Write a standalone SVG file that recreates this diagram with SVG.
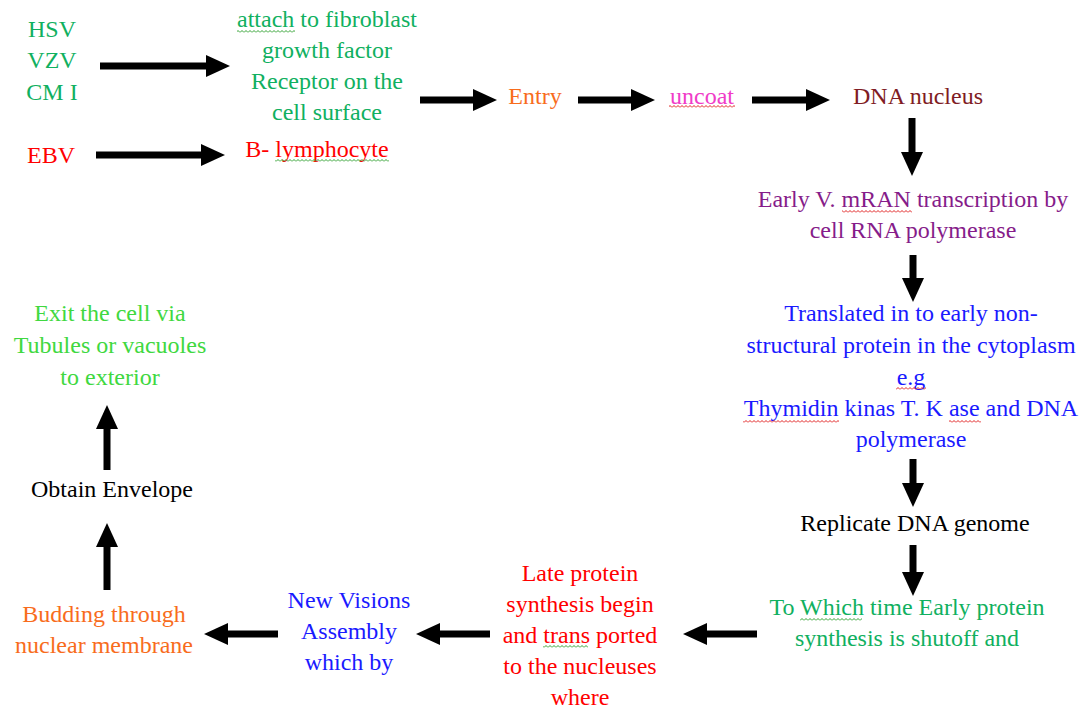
<svg xmlns="http://www.w3.org/2000/svg" width="1086" height="708" viewBox="0 0 1086 708">
<style>
text{font-family:"Liberation Serif","Times New Roman",serif;font-size:24px;text-anchor:middle}
.g{fill:#10b060}.lg{fill:#40d840}.o{fill:#f86c1c}.m{fill:#f03cc8}.dr{fill:#801c24}.p{fill:#861c8a}.b{fill:#1a1aff}.r{fill:#ff0000}.k{fill:#000}
.ar{stroke:#000;stroke-width:7;fill:none;marker-end:url(#ah)}
</style>
<defs>
<marker id="ah" markerUnits="userSpaceOnUse" markerWidth="24" markerHeight="22" viewBox="0 0 24 22" refX="0" refY="11" orient="auto"><path d="M0,0 L24,11 L0,22 z" fill="#000"/></marker>
<pattern id="wr" width="4" height="3" patternUnits="userSpaceOnUse"><path d="M0,2.5 L2,0.5 L4,2.5" stroke="#e02020" stroke-width="1" fill="none"/></pattern>
<pattern id="wg" width="4" height="3" patternUnits="userSpaceOnUse"><path d="M0,2.5 L2,0.5 L4,2.5" stroke="#30a030" stroke-width="1" fill="none"/></pattern>
</defs>
<rect width="1086" height="708" fill="#fff"/>
<g id="connectors">
<line class="ar" x1="100" y1="66" x2="206" y2="66"/>
<line class="ar" x1="96" y1="155" x2="201" y2="155"/>
<line class="ar" x1="420" y1="100" x2="473" y2="100"/>
<line class="ar" x1="578" y1="100" x2="631" y2="100"/>
<line class="ar" x1="752" y1="100" x2="806" y2="100"/>
<line class="ar" x1="912" y1="118" x2="912" y2="152"/>
<line class="ar" x1="913" y1="255" x2="913" y2="278"/>
<line class="ar" x1="913" y1="459" x2="913" y2="483"/>
<line class="ar" x1="913" y1="545" x2="913" y2="572"/>
<line class="ar" x1="757" y1="634" x2="707" y2="634"/>
<line class="ar" x1="490" y1="634" x2="440" y2="634"/>
<line class="ar" x1="278" y1="634" x2="228" y2="634"/>
<line class="ar" x1="107" y1="590" x2="107" y2="547"/>
<line class="ar" x1="107" y1="470" x2="107" y2="429"/>
</g>
<g id="hsv"><text class="g" x="52" y="37">HSV</text><text class="g" x="52" y="68">VZV</text><text class="g" x="52" y="100">CM I</text></g>
<g id="ebv"><text class="r" x="51" y="163">EBV</text></g>
<g id="attach"><text class="g" x="327" y="27">attach to fibroblast</text><text class="g" x="327" y="58">growth factor</text><text class="g" x="327" y="89">Receptor on the</text><text class="g" x="327" y="120">cell surface</text><rect x="237" y="30" width="58" height="3" fill="url(#wg)"/></g>
<g id="blymph"><text class="r" x="317" y="157">B- lymphocyte</text><rect x="275" y="159" width="114" height="3" fill="url(#wg)"/></g>
<g id="entry"><text class="o" x="535" y="104">Entry</text></g>
<g id="uncoat"><text class="m" x="702" y="104">uncoat</text><rect x="669" y="105" width="66" height="3" fill="url(#wr)"/></g>
<g id="dnanucleus"><text class="dr" x="918" y="104">DNA nucleus</text></g>
<g id="earlyv"><text class="p" x="913" y="207">Early V. mRAN transcription by</text><text class="p" x="913" y="238">cell RNA polymerase</text><rect x="842" y="210" width="70" height="3" fill="url(#wr)"/></g>
<g id="translated"><text class="b" x="911" y="321">Translated in to early non-</text><text class="b" x="911" y="353">structural protein in the cytoplasm</text><text class="b" x="911" y="385">e.g</text><text class="b" x="911" y="416">Thymidin kinas T. K ase and DNA</text><text class="b" x="911" y="447">polymerase</text><rect x="896" y="387" width="30" height="3" fill="url(#wr)"/><rect x="743" y="420" width="96" height="3" fill="url(#wr)"/><rect x="949" y="420" width="32" height="3" fill="url(#wr)"/></g>
<g id="replicate"><text class="k" x="915" y="531">Replicate DNA genome</text></g>
<g id="towhich"><text class="g" x="907" y="615">To Which time Early protein</text><text class="g" x="907" y="646">synthesis is shutoff and</text><rect x="800" y="618" width="62" height="3" fill="url(#wg)"/></g>
<g id="late"><text class="r" x="580" y="581">Late protein</text><text class="r" x="580" y="612">synthesis begin</text><text class="r" x="580" y="643">and trans ported</text><text class="r" x="580" y="674">to the nucleuses</text><text class="r" x="580" y="705">where</text><rect x="543" y="645" width="45" height="3" fill="url(#wg)"/></g>
<g id="newvisions"><text class="b" x="349" y="608">New Visions</text><text class="b" x="349" y="639">Assembly</text><text class="b" x="349" y="670">which by</text></g>
<g id="budding"><text class="o" x="104" y="622">Budding through</text><text class="o" x="104" y="653">nuclear membrane</text></g>
<g id="envelope"><text class="k" x="112" y="497">Obtain Envelope</text></g>
<g id="exit"><text class="lg" x="110" y="321">Exit the cell via</text><text class="lg" x="110" y="353">Tubules or vacuoles</text><text class="lg" x="110" y="385">to exterior</text></g>
</svg>
